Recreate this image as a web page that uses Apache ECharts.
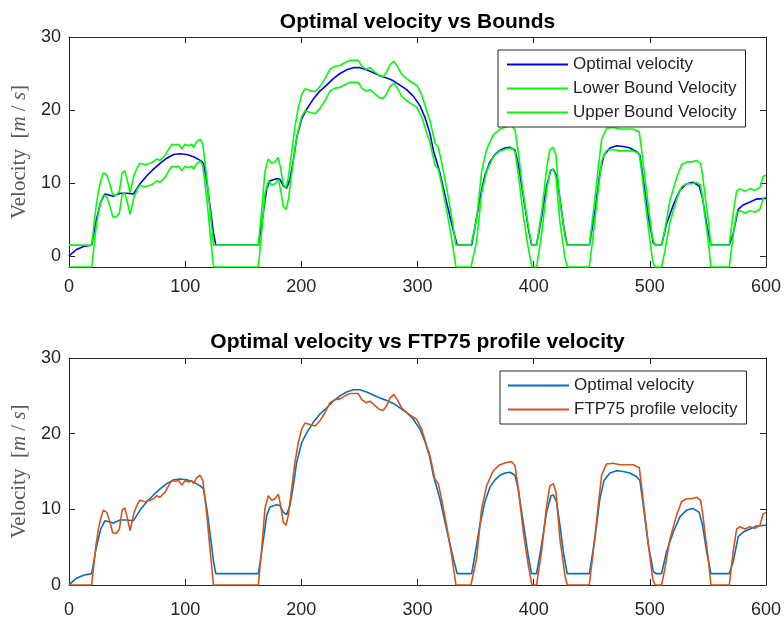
<!DOCTYPE html>
<html>
<head>
<meta charset="utf-8">
<script src="https://cdn.jsdelivr.net/npm/echarts@6/dist/echarts.min.js"></script>
<style>
  html, body { margin: 0; padding: 0; background: #fff; }
  #chart { width: 784px; height: 619px; }
</style>
</head>
<body>
<div id="chart"></div>
<script>
// Time axis ticks [s]
const timeTicks = [0, 100, 200, 300, 400, 500, 600];
const velocityTicks = [0, 10, 20, 30];

// Optimal velocity profile
const timeOpt = [0, 3, 6.6, 12.4, 19.5, 23.3, 27.3, 31, 38.2, 44, 49.7, 55.5, 61.2, 67, 72.7, 78.4, 84.2, 90, 95.7, 101.4, 107.2, 113, 115.8, 118.7, 121.6, 124.4, 126.4,
  163, 165.9, 170.2, 173, 178.8, 181.6, 184.5, 187.4, 190.2, 193.1, 196, 200.3, 204.6, 210.3, 216, 221.8, 227.5, 233.3, 239, 244.7, 250.5, 256.2, 262, 267.7, 273.4, 279.2, 284.9, 290.6, 296.4, 302.1, 306.4, 310.7, 313.6, 319.3, 325, 330.8, 334.2,
  346.6, 349.4, 353.7, 358, 362.3, 366.7, 371, 375.3, 379.6, 383.9, 386.7, 391, 395.3, 398.2, 402.5, 406.8, 411.1, 414.9, 416.9, 419.7, 422.6, 426, 428.9,
  448, 452.7, 457, 460.5, 465.7, 471.4, 477.1, 482.9, 488.6, 491.5, 494.4, 498.7, 503, 505.3, 510.1, 514.4, 520.2, 525.9, 531.6, 537.4, 542.5, 545.4, 548.9, 552.6, 568.4, 571.8, 576.1, 580.4, 586.2, 591.9, 600];
const optimalVelocity = [0, 0.45, 0.9, 1.3, 1.5, 4.8, 7.4, 8.5, 8.2, 8.6, 8.6, 8.5, 9.9, 11, 11.9, 12.7, 13.4, 13.9, 14.0, 13.9, 13.6, 13.1, 12.7, 10, 6.6, 3.1, 1.5,
  1.5, 4.4, 9.2, 10.3, 10.6, 10.5, 9.6, 9.3, 10.5, 13.1, 16.2, 18.8, 20.1, 21.5, 22.6, 23.4, 24.3, 25.0, 25.5, 25.8, 25.8, 25.5, 25.1, 24.7, 24.4, 24.0, 23.4, 22.8, 21.9, 20.6, 19.0, 16.8, 14.5, 11.4, 7.4, 3.5, 1.5,
  1.5, 3.9, 7.9, 11, 12.9, 13.9, 14.5, 14.8, 14.9, 14.5, 12.7, 8.3, 3.9, 1.5, 1.5, 5.3, 9.6, 11.8, 11.9, 11, 7.9, 3.9, 1.5,
  1.5, 6.1, 11.4, 13.8, 14.8, 15.1, 15.0, 14.8, 14.3, 13.8, 10.5, 5.3, 1.8, 1.5, 1.5, 4.4, 7.0, 9.0, 9.9, 10.1, 9.6, 7.9, 4.4, 1.5, 1.5, 3.1, 6.4, 7.0, 7.4, 7.8, 7.9];

// FTP75 drive cycle and its tolerance band
const timeFtp = [0, 19.5, 23.3, 25.3, 27.3, 29.6, 32.5, 35.3, 37.6, 40.5, 43.4, 45.7, 48, 50.3, 52.6, 54.3, 56, 59, 61.2, 65.5, 69.8, 72.7, 75.6, 78.4, 82.8, 85.6, 88.5, 91.4, 94.3, 97.1, 100, 103, 105.7, 107.2, 110, 113, 115.2, 118.7, 121.6, 124.4,
  163, 165.9, 168.7, 171.6, 174.5, 177.3, 180.2, 182.2, 184.5, 186.8, 188.8, 191.7, 194.5, 197.4, 200.3, 203.1, 207.5, 211.8, 216, 220.4, 224.7, 229, 233.3, 237.6, 241.9, 246.2, 249, 252, 255.7, 259.1, 263.4, 267.1, 270.6, 273.4, 276.3, 279.7, 282.6, 286.3, 290.6, 295, 299.3, 303.6, 307.9, 310.7, 315, 317.9, 320.7, 325, 329.4, 333.1,
  346, 350.9, 355.2, 359.5, 365.2, 371, 376.7, 381, 383.9, 386.8, 391.1, 395.4, 398.5, 402.5, 406.8, 411.2, 414, 416.9, 419.2, 422.6, 426.9, 428.9,
  447.9, 451.3, 455.6, 458.5, 462.8, 468.5, 474.3, 480, 485.7, 490.9, 492.9, 495.8, 499.5, 502.4, 504.4, 510.1, 513, 517.3, 523, 527.3, 531.6, 535.9, 540.2, 543.7, 545.4, 547.4, 550.3, 552.6, 568.4, 571.8, 574.7, 577.6, 581.9, 586.2, 590.4, 594.8, 597.6, 600];
const ftpVelocity = [0, 0, 5.3, 7.4, 8.8, 9.9, 9.6, 8.3, 6.9, 6.8, 7.4, 9.9, 10.2, 8.8, 7.2, 7.4, 9.6, 10.7, 11.2, 11.0, 11.2, 11.4, 11.8, 11.6, 12.3, 13.1, 13.8, 13.7, 13.8, 13.2, 13.8, 13.6, 13.8, 13.4, 14.2, 14.5, 13.8, 9.2, 4.4, 0,
  0, 4.8, 10.1, 11.8, 11.2, 11.4, 12.0, 10.5, 8.3, 7.9, 9.2, 12.7, 16.2, 18.8, 20.6, 21.4, 21.2, 21.0, 21.7, 22.8, 24.1, 24.5, 24.6, 25.0, 25.3, 25.3, 25.3, 24.5, 24.1, 24.3, 23.7, 23.2, 23.1, 23.7, 24.7, 25.2, 24.5, 23.4, 22.8, 22.3, 21.9, 20.6, 18.4, 17.1, 14.0, 13.4, 11.4, 7.9, 3.9, 0,
  0, 3.5, 10.1, 13.1, 15.1, 15.9, 16.2, 16.3, 15.8, 12.7, 7.0, 2.6, 0, 0, 4.4, 10.5, 13.1, 13.4, 12.3, 6.1, 1.3, 0,
  0, 4.4, 10.5, 14.5, 16.0, 16.1, 15.9, 15.9, 15.9, 15.5, 13.1, 9.2, 4.4, 0.9, 0, 0, 2.2, 6.1, 9.2, 11.0, 11.4, 11.4, 11.6, 11.2, 9.6, 7.0, 3.5, 0, 0, 4.4, 7.4, 7.7, 7.4, 7.7, 7.5, 7.9, 9.4, 9.6];
const lowerBoundVelocity = [-1.5, -1.5, 3.8, 5.9, 7.3, 8.4, 8.1, 6.8, 5.4, 5.3, 5.9, 8.4, 8.7, 7.3, 5.7, 5.9, 8.1, 9.2, 9.7, 9.5, 9.7, 9.9, 10.3, 10.1, 10.8, 11.6, 12.3, 12.2, 12.3, 11.7, 12.3, 12.1, 12.3, 11.9, 12.7, 13.0, 12.3, 7.7, 2.9, -1.5,
  -1.5, 3.3, 8.6, 10.3, 9.7, 9.9, 10.5, 9.0, 6.8, 6.4, 7.7, 11.2, 14.7, 17.3, 19.1, 19.9, 19.7, 19.5, 20.2, 21.3, 22.6, 23.0, 23.1, 23.5, 23.8, 23.8, 23.8, 23.0, 22.6, 22.8, 22.2, 21.7, 21.6, 22.2, 23.2, 23.7, 23.0, 21.9, 21.3, 20.8, 20.4, 19.1, 16.9, 15.6, 12.5, 11.9, 9.9, 6.4, 2.4, -1.5,
  -1.5, 2.0, 8.6, 11.6, 13.6, 14.4, 14.7, 14.8, 14.3, 11.2, 5.5, 1.1, -1.5, -1.5, 2.9, 9.0, 11.6, 11.9, 10.8, 4.6, -0.2, -1.5,
  -1.5, 2.9, 9.0, 13.0, 14.5, 14.6, 14.4, 14.4, 14.4, 14.0, 11.6, 7.7, 2.9, -0.6, -1.5, -1.5, 0.7, 4.6, 7.7, 9.5, 9.9, 9.9, 10.1, 9.7, 8.1, 5.5, 2.0, -1.5, -1.5, 2.9, 5.9, 6.2, 5.9, 6.2, 6.0, 6.4, 7.9, 8.1];
const upperBoundVelocity = [1.5, 1.5, 6.8, 8.9, 10.3, 11.4, 11.1, 9.8, 8.4, 8.3, 8.9, 11.4, 11.7, 10.3, 8.7, 8.9, 11.1, 12.2, 12.7, 12.5, 12.7, 12.9, 13.3, 13.1, 13.8, 14.6, 15.3, 15.2, 15.3, 14.7, 15.3, 15.1, 15.3, 14.9, 15.7, 16.0, 15.3, 10.7, 5.9, 1.5,
  1.5, 6.3, 11.6, 13.3, 12.7, 12.9, 13.5, 12.0, 9.8, 9.4, 10.7, 14.2, 17.7, 20.3, 22.1, 22.9, 22.7, 22.5, 23.2, 24.3, 25.6, 26.0, 26.1, 26.5, 26.8, 26.8, 26.8, 26.0, 25.6, 25.8, 25.2, 24.7, 24.6, 25.2, 26.2, 26.7, 26.0, 24.9, 24.3, 23.8, 23.4, 22.1, 19.9, 18.6, 15.5, 14.9, 12.9, 9.4, 5.4, 1.5,
  1.5, 5.0, 11.6, 14.6, 16.6, 17.4, 17.7, 17.8, 17.3, 14.2, 8.5, 4.1, 1.5, 1.5, 5.9, 12.0, 14.6, 14.9, 13.8, 7.6, 2.8, 1.5,
  1.5, 5.9, 12.0, 16.0, 17.5, 17.6, 17.4, 17.4, 17.4, 17.0, 14.6, 10.7, 5.9, 2.4, 1.5, 1.5, 3.7, 7.6, 10.7, 12.5, 12.9, 12.9, 13.1, 12.7, 11.1, 8.5, 5.0, 1.5, 1.5, 5.9, 8.9, 9.2, 8.9, 9.2, 9.0, 9.4, 10.9, 11.1];

const pairs = (xs, ys) => xs.map((x, i) => [x, ys[i]]);

const SANS = 'Liberation Sans, Arial, sans-serif';
const SERIF = 'Liberation Serif, Times New Roman, serif';
const AXIS_COLOR = '#262626';

function xAxes(gridIndex, margin) {
  return [{
    type: 'value', gridIndex, min: 0, max: 600, interval: 100, position: 'bottom',
    axisLine: { onZero: false, lineStyle: { color: AXIS_COLOR, width: 1 } },
    axisTick: { inside: true, length: 6, lineStyle: { color: AXIS_COLOR } },
    axisLabel: { margin, color: AXIS_COLOR, fontSize: 18, fontFamily: SANS,
                 customValues: timeTicks },
    splitLine: { show: false }
  }, {
    type: 'value', gridIndex, min: 0, max: 600, interval: 100, position: 'top',
    axisLine: { onZero: false, lineStyle: { color: AXIS_COLOR, width: 1 } },
    axisTick: { inside: true, length: 6, lineStyle: { color: AXIS_COLOR } },
    axisLabel: { show: false },
    splitLine: { show: false }
  }];
}

function yAxes(gridIndex, min) {
  return [{
    type: 'value', gridIndex, min, max: 30, position: 'left',
    axisLine: { show: true, onZero: false, lineStyle: { color: AXIS_COLOR, width: 1 } },
    axisTick: { show: true, inside: true, length: 6, lineStyle: { color: AXIS_COLOR },
                customValues: velocityTicks },
    axisLabel: { margin: 8, color: AXIS_COLOR, fontSize: 18, fontFamily: SANS,
                 customValues: velocityTicks },
    splitLine: { show: false },
    name: '{r|Velocity  [}{i|m}{r| / }{i|s}{r|]}',
    nameLocation: 'middle', nameGap: 36, nameRotate: 90,
    nameTextStyle: {
      rich: {
        r: { fontFamily: SERIF, fontSize: 21, color: '#5a5a5a' },
        i: { fontFamily: SERIF, fontSize: 21, fontStyle: 'italic', color: '#5a5a5a' }
      }
    }
  }, {
    type: 'value', gridIndex, min, max: 30, position: 'right',
    axisLine: { show: true, onZero: false, lineStyle: { color: AXIS_COLOR, width: 1 } },
    axisTick: { show: true, inside: true, length: 6, lineStyle: { color: AXIS_COLOR },
                customValues: velocityTicks },
    axisLabel: { show: false },
    splitLine: { show: false }
  }];
}

// Legend shows plain line samples (no markers)
const legendBase = {
  orient: 'vertical', itemWidth: 61, itemHeight: 16, itemGap: 7,
  borderColor: AXIS_COLOR, borderWidth: 1, backgroundColor: '#fff',
  itemStyle: { opacity: 0 },
  textStyle: { fontSize: 17, color: AXIS_COLOR, fontFamily: SANS },
  selectedMode: false
};

const line = (name, data, color, xAxisIndex, yAxisIndex) => ({
  name, type: 'line', data, xAxisIndex, yAxisIndex,
  symbol: 'none', smooth: false, animation: false,
  lineStyle: { color, width: 1.6 }, itemStyle: { color }
});

const chart = echarts.init(document.getElementById('chart'), null, { renderer: 'canvas' });
chart.setOption({
  backgroundColor: '#fff',
  animation: false,
  grid: [
    { left: 69, top: 37, width: 697, height: 230 },
    { left: 69, top: 358, width: 697, height: 229 }
  ],
  xAxis: [...xAxes(0, 11), ...xAxes(1, 16)],
  yAxis: [...yAxes(0, -1.5), ...yAxes(1, 0)],
  graphic: [
    { type: 'text', x: 417.5, y: 22, style: { text: 'Optimal velocity vs Bounds', font: 'bold 21px ' + SANS, fill: '#000', align: 'center', verticalAlign: 'middle' } },
    { type: 'text', x: 417.5, y: 342, style: { text: 'Optimal velocity vs FTP75 profile velocity', font: 'bold 21px ' + SANS, fill: '#000', align: 'center', verticalAlign: 'middle' } }
  ],
  legend: [
    Object.assign({}, legendBase, {
      left: 498, top: 50, padding: [6, 9, 6, 8],
      data: ['Optimal velocity', 'Lower Bound Velocity', 'Upper Bound Velocity']
    }),
    Object.assign({}, legendBase, {
      left: 500, top: 371, padding: [6, 9, 6, 7],
      data: [
        { name: 'Optimal velocity ', lineStyle: { color: '#0072BD' } },
        'FTP75 profile velocity'
      ]
    })
  ],
  series: [
    line('Optimal velocity', pairs(timeOpt, optimalVelocity), '#0000ff', 0, 0),
    line('Lower Bound Velocity', pairs(timeFtp, lowerBoundVelocity), '#00ff00', 0, 0),
    line('Upper Bound Velocity', pairs(timeFtp, upperBoundVelocity), '#00ff00', 0, 0),
    line('Optimal velocity ', pairs(timeOpt, optimalVelocity), '#0072BD', 2, 2),
    line('FTP75 profile velocity', pairs(timeFtp, ftpVelocity), '#D95319', 2, 2)
  ]
});
</script>
</body>
</html>
